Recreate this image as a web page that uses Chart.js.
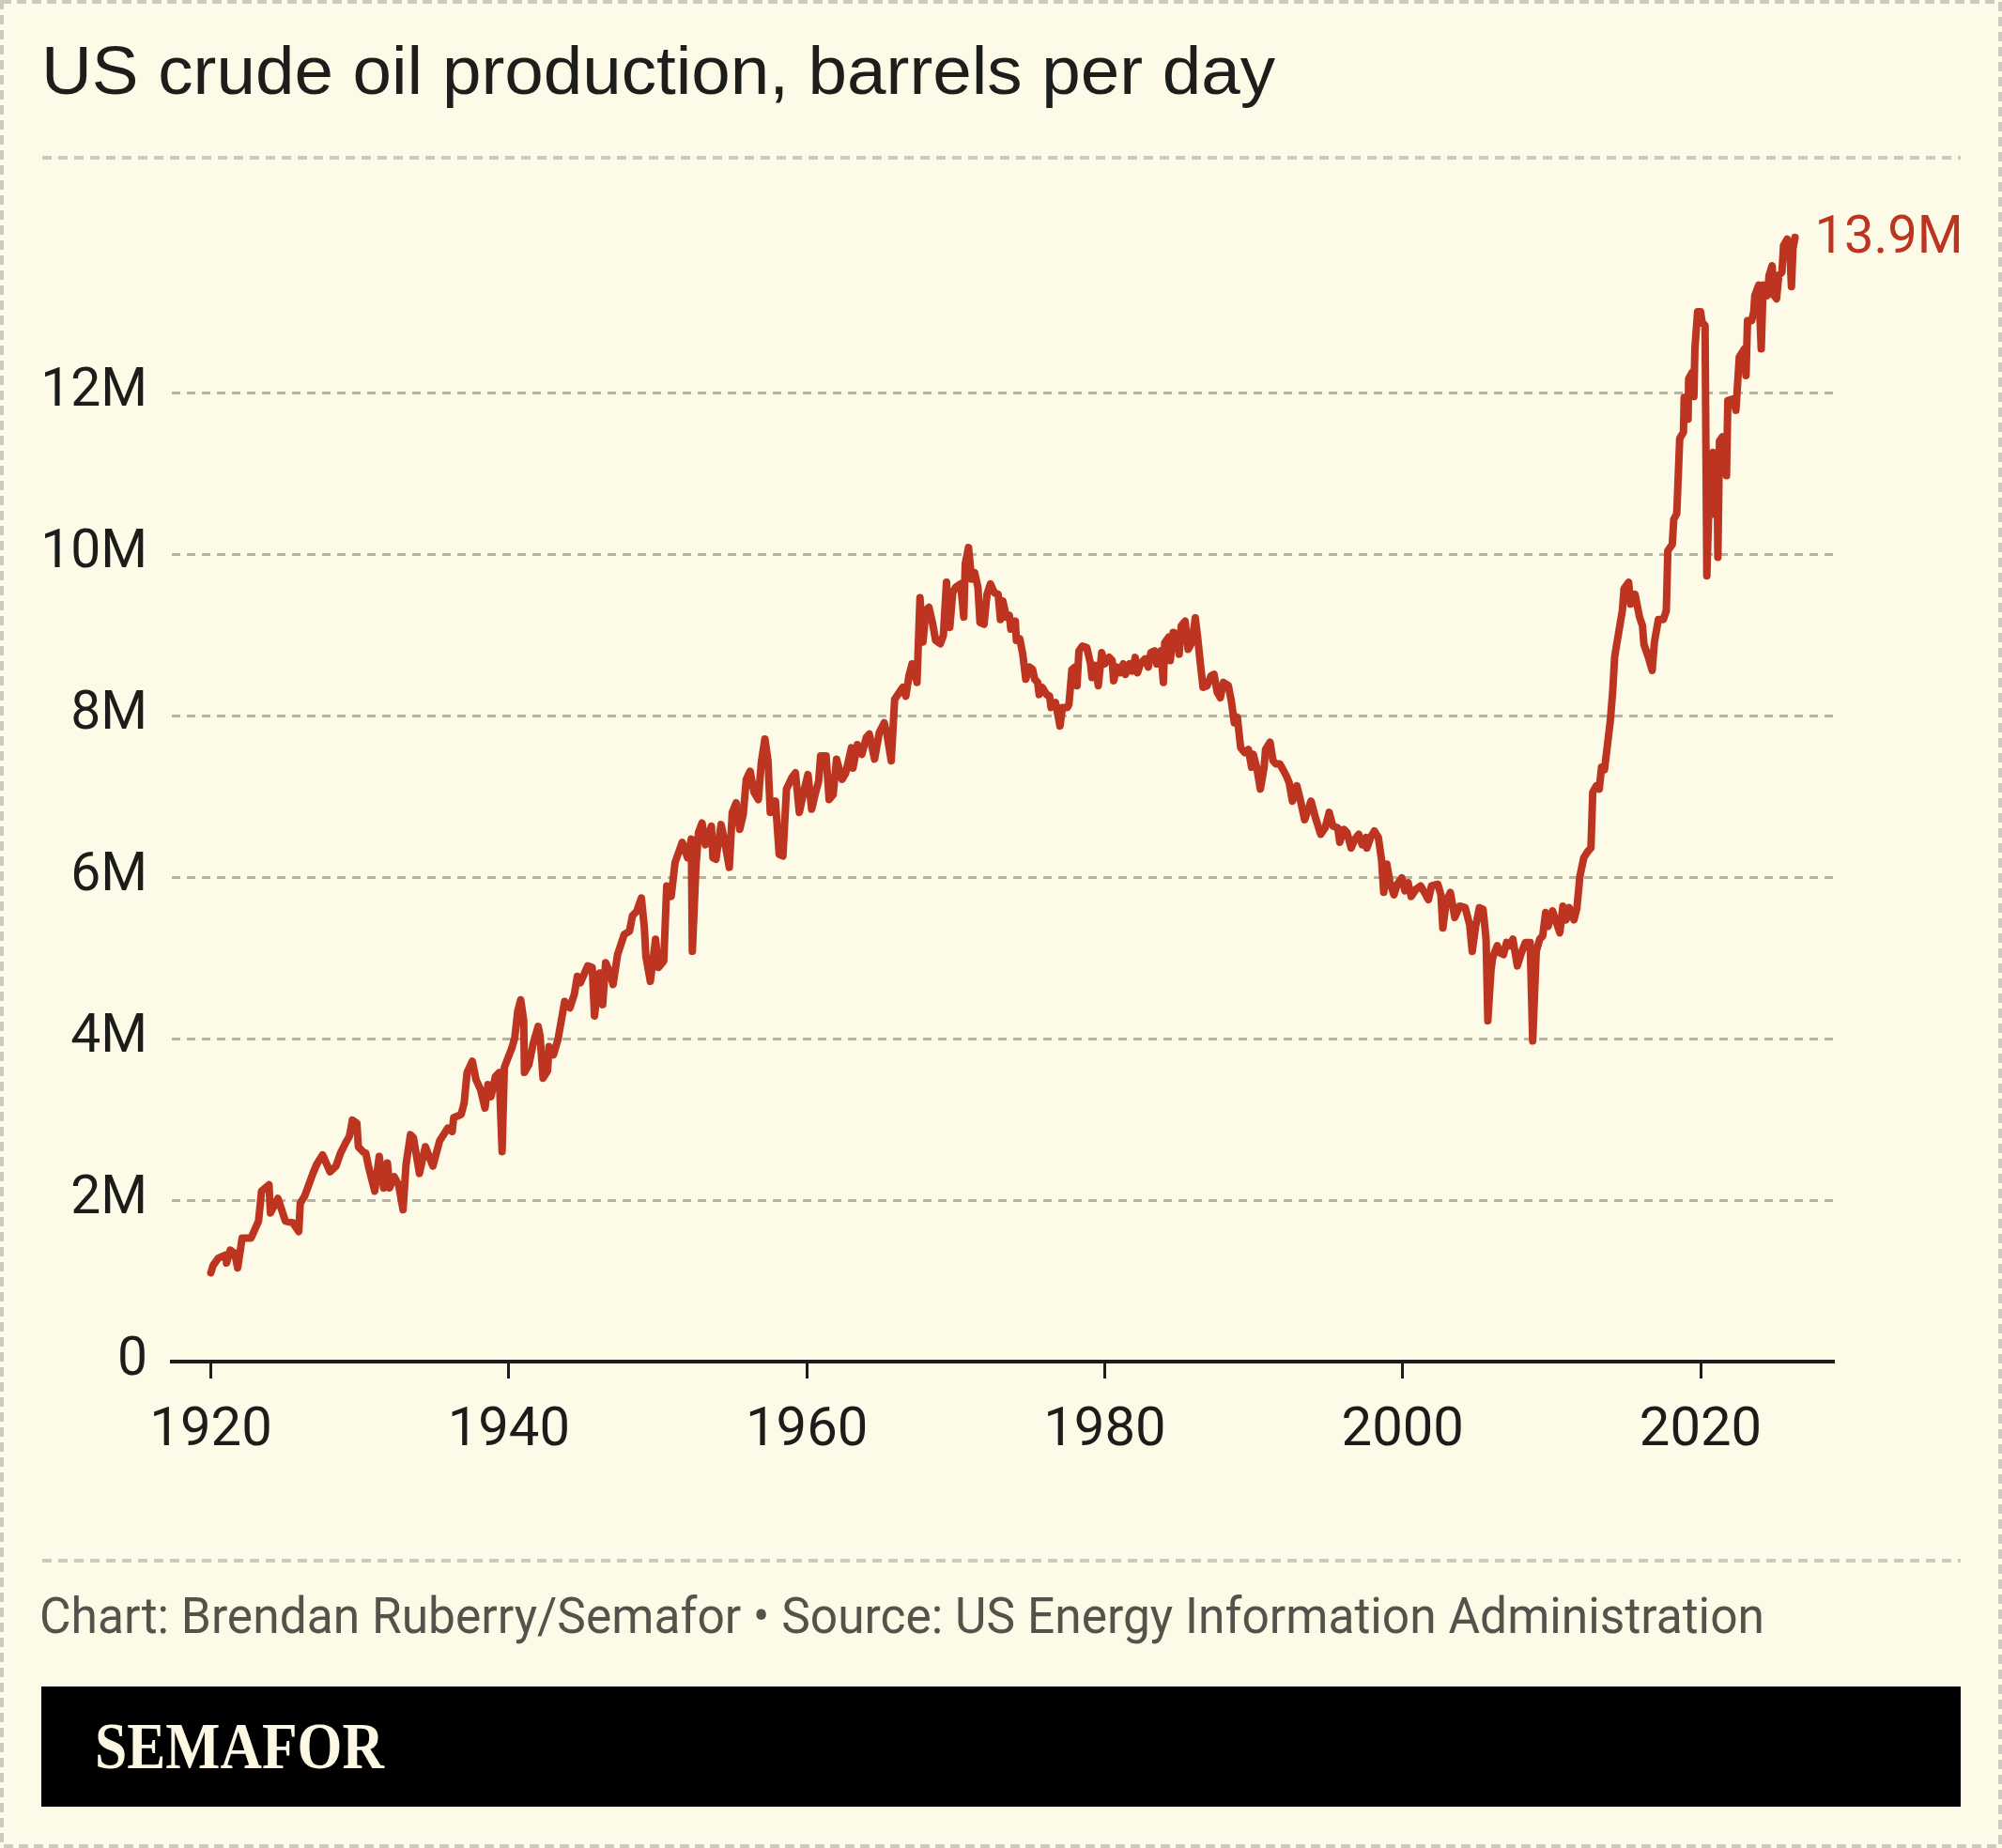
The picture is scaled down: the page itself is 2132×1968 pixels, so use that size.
<!DOCTYPE html>
<html>
<head>
<meta charset="utf-8">
<title>US crude oil production</title>
<script src="https://cdn.jsdelivr.net/npm/chart.js@4.4.1/dist/chart.umd.min.js"></script>
<style>
  html, body { margin: 0; padding: 0; background: #fdfae7; }
  #page { position: relative; width: 2132px; height: 1968px; overflow: hidden; background: #fdfae7; }
  #chart { position: absolute; left: 0; top: 0; }
  #overlay { position: absolute; left: 0; top: 0; pointer-events: none; }
</style>
</head>
<body>
<div id="page">
  <canvas id="chart" width="2132" height="1640"></canvas>
  <svg id="overlay" width="2132" height="1968" xmlns="http://www.w3.org/2000/svg">
    <rect x="2" y="2" width="2128" height="1964" fill="none" stroke="#ccc9be" stroke-width="4" stroke-dasharray="10 6"/>
    <text x="44" y="100" font-family="Liberation Sans, Arial, sans-serif" font-size="72" fill="#1d1d1b"
          textLength="1314" lengthAdjust="spacingAndGlyphs">US crude oil production, barrels per day</text>
    <line x1="45" y1="168" x2="2088" y2="168" stroke="#ccc9be" stroke-width="4" stroke-dasharray="10 7"/>
    <line x1="45" y1="1662" x2="2088" y2="1662" stroke="#ccc9be" stroke-width="4" stroke-dasharray="10 7"/>
    <text x="42" y="1739" font-family="Roboto, 'Liberation Sans', sans-serif" font-size="53" fill="#56524b"
          textLength="1837" lengthAdjust="spacingAndGlyphs">Chart: Brendan Ruberry/Semafor • Source: US Energy Information Administration</text>
    <rect x="44" y="1796" width="2044" height="128" fill="#000000"/>
    <text x="101" y="1883" font-family="'Liberation Serif', 'DejaVu Serif', serif" font-weight="bold" font-size="70" fill="#fcf8e3"
          textLength="308" lengthAdjust="spacingAndGlyphs">SEMAFOR</text>
  </svg>
</div>
<script>
// --- US crude oil production, million barrels per day ---

const years1920to1948 = [
  1920.0, 1920.15, 1920.5, 1921.0, 1921.05, 1921.3, 1921.6, 1921.8, 1922.1, 1922.7,
  1923.2, 1923.4, 1923.9, 1924.0, 1924.5, 1925.0, 1925.5, 1925.9, 1926.0, 1926.3,
  1926.85, 1927.1, 1927.5, 1928.0, 1928.4, 1928.7, 1929.05, 1929.3, 1929.5, 1929.8,
  1929.9, 1930.2, 1930.4, 1930.6, 1931.0, 1931.3, 1931.6, 1931.85, 1932.0, 1932.3,
  1932.6, 1932.9, 1933.1, 1933.4, 1933.6, 1934.0, 1934.4, 1934.9, 1935.35, 1935.9,
  1936.2, 1936.3, 1936.8, 1937.0, 1937.2, 1937.55, 1937.8, 1938.1, 1938.4, 1938.6,
  1938.8, 1939.1, 1939.35, 1939.55, 1939.7, 1939.9, 1940.2, 1940.4, 1940.6, 1940.8,
  1941.0, 1941.05, 1941.35, 1941.65, 1941.97, 1942.1, 1942.3, 1942.6, 1942.7, 1943.0,
  1943.3, 1943.75, 1944.1, 1944.4, 1944.6, 1944.8, 1945.3, 1945.6, 1945.75, 1946.1,
  1946.3, 1946.5, 1946.8, 1947.0, 1947.3, 1947.5, 1947.75, 1948.1, 1948.3, 1948.6
];
const mbpd1920to1948 = [
  1.10, 1.19, 1.28, 1.32, 1.22, 1.38, 1.34, 1.16, 1.53, 1.53,
  1.74, 2.11, 2.19, 1.84, 2.02, 1.74, 1.72, 1.61, 1.96, 2.05,
  2.33, 2.44, 2.56, 2.35, 2.42, 2.58, 2.71, 2.79, 2.99, 2.95,
  2.66, 2.60, 2.58, 2.40, 2.11, 2.54, 2.15, 2.46, 2.15, 2.29,
  2.19, 1.88, 2.44, 2.81, 2.77, 2.33, 2.66, 2.42, 2.73, 2.89,
  2.85, 3.02, 3.06, 3.20, 3.58, 3.72, 3.49, 3.37, 3.14, 3.43,
  3.28, 3.53, 3.58, 2.60, 3.64, 3.74, 3.88, 4.01, 4.34, 4.48,
  4.22, 3.58, 3.68, 3.95, 4.15, 4.03, 3.51, 3.60, 3.90, 3.80,
  3.99, 4.46, 4.38, 4.55, 4.77, 4.69, 4.90, 4.88, 4.28, 4.81,
  4.42, 4.94, 4.81, 4.67, 5.04, 5.15, 5.29, 5.33, 5.52, 5.58
];

const years1948to1973 = [
  1948.9, 1949.1, 1949.2, 1949.5, 1949.85, 1950.05, 1950.4, 1950.6, 1950.9, 1951.16,
  1951.64, 1952.0, 1952.25, 1952.32, 1952.56, 1952.73, 1952.97, 1953.2, 1953.6, 1953.7,
  1953.9, 1954.25, 1954.5, 1954.8, 1955.0, 1955.26, 1955.5, 1955.74, 1955.94, 1956.2,
  1956.46, 1956.75, 1956.95, 1957.19, 1957.4, 1957.55, 1957.9, 1958.15, 1958.4, 1958.64,
  1959.0, 1959.24, 1959.5, 1959.84, 1960.08, 1960.33, 1960.57, 1960.8, 1960.93, 1961.3,
  1961.5, 1961.77, 1962.0, 1962.37, 1962.6, 1963.0, 1963.1, 1963.4, 1963.7, 1964.0,
  1964.2, 1964.55, 1964.87, 1965.2, 1965.4, 1965.67, 1965.9, 1966.23, 1966.45, 1966.65,
  1966.86, 1967.07, 1967.4, 1967.6, 1967.8, 1968.0, 1968.2, 1968.44, 1968.65, 1968.97,
  1969.17, 1969.38, 1969.6, 1969.8, 1970.0, 1970.33, 1970.54, 1970.64, 1970.86, 1971.06,
  1971.27, 1971.49, 1971.63, 1971.9, 1972.1, 1972.33, 1972.6, 1972.85, 1973.0, 1973.16
];
const mbpd1948to1973 = [
  5.74, 5.37, 5.02, 4.71, 5.23, 4.88, 4.96, 5.89, 5.76, 6.18,
  6.43, 6.24, 6.47, 5.08, 6.12, 6.55, 6.67, 6.40, 6.63, 6.24,
  6.22, 6.65, 6.43, 6.12, 6.80, 6.92, 6.59, 6.78, 7.21, 7.31,
  7.05, 6.96, 7.42, 7.71, 7.44, 6.80, 6.94, 6.28, 6.26, 7.09,
  7.23, 7.29, 6.80, 7.09, 7.27, 6.84, 7.03, 7.19, 7.50, 7.50,
  6.96, 7.02, 7.46, 7.21, 7.28, 7.60, 7.35, 7.64, 7.52, 7.73,
  7.77, 7.46, 7.79, 7.91, 7.75, 7.44, 8.20, 8.29, 8.35, 8.24,
  8.49, 8.64, 8.41, 9.46, 8.91, 9.30, 9.34, 9.15, 8.93, 8.89,
  8.99, 9.65, 9.09, 9.52, 9.59, 9.63, 9.22, 9.88, 10.08, 9.69,
  9.77, 9.59, 9.15, 9.13, 9.50, 9.63, 9.52, 9.50, 9.19, 9.42
];

const years1973to1994 = [
  1973.4, 1973.6, 1973.7, 1974.0, 1974.07, 1974.3, 1974.5, 1974.7, 1974.95, 1975.16,
  1975.3, 1975.5, 1975.6, 1975.8, 1976.1, 1976.3, 1976.4, 1976.7, 1977.0, 1977.16,
  1977.5, 1977.6, 1977.8, 1978.0, 1978.14, 1978.27, 1978.5, 1978.8, 1979.05, 1979.15,
  1979.36, 1979.57, 1979.8, 1980.0, 1980.3, 1980.5, 1980.6, 1980.83, 1981.04, 1981.25,
  1981.4, 1981.67, 1981.84, 1982.05, 1982.2, 1982.4, 1982.7, 1982.93, 1983.1, 1983.35,
  1983.5, 1983.77, 1983.94, 1984.03, 1984.3, 1984.4, 1984.6, 1984.82, 1985.0, 1985.14,
  1985.4, 1985.6, 1985.87, 1986.08, 1986.25, 1986.4, 1986.6, 1986.88, 1987.13, 1987.34,
  1987.55, 1987.76, 1987.97, 1988.3, 1988.5, 1988.7, 1988.9, 1989.13, 1989.4, 1989.65,
  1989.86, 1989.97, 1990.2, 1990.45, 1990.7, 1990.8, 1991.1, 1991.3, 1991.5, 1991.75,
  1991.97, 1992.2, 1992.38, 1992.6, 1992.9, 1993.1, 1993.42, 1993.85, 1994.17, 1994.5
];
const mbpd1973to1994 = [
  9.22, 9.24, 9.07, 9.17, 8.93, 8.95, 8.76, 8.45, 8.60, 8.57,
  8.45, 8.41, 8.26, 8.35, 8.26, 8.24, 8.10, 8.16, 7.87, 8.10,
  8.10, 8.14, 8.57, 8.60, 8.37, 8.80, 8.86, 8.84, 8.64, 8.47,
  8.62, 8.37, 8.78, 8.64, 8.72, 8.68, 8.43, 8.60, 8.53, 8.64,
  8.51, 8.64, 8.55, 8.72, 8.53, 8.64, 8.70, 8.60, 8.78, 8.80,
  8.64, 8.80, 8.41, 8.90, 8.97, 8.68, 9.03, 9.01, 8.76, 9.11,
  9.17, 8.82, 8.91, 9.21, 8.95, 8.68, 8.35, 8.37, 8.49, 8.51,
  8.29, 8.22, 8.41, 8.37, 8.18, 7.91, 7.98, 7.60, 7.54, 7.58,
  7.36, 7.52, 7.36, 7.09, 7.36, 7.58, 7.67, 7.44, 7.40, 7.40,
  7.33, 7.25, 7.17, 6.94, 7.13, 6.98, 6.71, 6.94, 6.72, 6.53
];

const years1994to2017 = [
  1994.8, 1995.07, 1995.32, 1995.64, 1995.78, 1996.06, 1996.27, 1996.54, 1996.8, 1997.05,
  1997.28, 1997.54, 1997.6, 1997.85, 1998.1, 1998.37, 1998.58, 1998.73, 1998.94, 1999.15,
  1999.42, 1999.63, 1999.94, 2000.15, 2000.37, 2000.57, 2000.9, 2001.2, 2001.4, 2001.73,
  2001.94, 2002.36, 2002.57, 2002.7, 2002.93, 2003.2, 2003.35, 2003.5, 2003.83, 2004.2,
  2004.5, 2004.67, 2004.9, 2005.15, 2005.4, 2005.6, 2005.72, 2005.93, 2006.04, 2006.35,
  2006.56, 2006.77, 2006.98, 2007.2, 2007.4, 2007.7, 2007.93, 2008.24, 2008.56, 2008.73,
  2008.97, 2009.2, 2009.4, 2009.6, 2009.77, 2010.07, 2010.3, 2010.55, 2010.76, 2010.97,
  2011.18, 2011.5, 2011.7, 2011.9, 2012.16, 2012.44, 2012.64, 2012.76, 2013.0, 2013.2,
  2013.35, 2013.55, 2013.7, 2013.95, 2014.1, 2014.23, 2014.33, 2014.75, 2014.86, 2015.17,
  2015.3, 2015.6, 2015.9, 2016.1, 2016.2, 2016.5, 2016.75, 2016.9, 2017.17, 2017.5
];
const mbpd1994to2017 = [
  6.61, 6.80, 6.63, 6.61, 6.43, 6.59, 6.55, 6.36, 6.47, 6.53,
  6.40, 6.49, 6.36, 6.49, 6.57, 6.49, 6.22, 5.81, 6.16, 5.93,
  5.78, 5.91, 5.99, 5.83, 5.93, 5.76, 5.85, 5.89, 5.83, 5.72,
  5.89, 5.91, 5.78, 5.37, 5.70, 5.81, 5.66, 5.50, 5.64, 5.62,
  5.41, 5.08, 5.39, 5.62, 5.60, 5.23, 4.22, 4.84, 5.00, 5.15,
  5.06, 5.04, 5.19, 5.15, 5.23, 4.90, 5.04, 5.19, 5.19, 3.97,
  5.08, 5.23, 5.27, 5.56, 5.39, 5.58, 5.45, 5.31, 5.64, 5.47,
  5.62, 5.47, 5.62, 6.01, 6.24, 6.32, 6.36, 7.05, 7.13, 7.09,
  7.36, 7.33, 7.56, 7.95, 8.30, 8.72, 8.84, 9.30, 9.57, 9.65,
  9.38, 9.50, 9.22, 9.11, 8.88, 8.72, 8.56, 8.91, 9.19, 9.19
];

const years2017to2026 = [
  2017.7, 2017.8, 2018.1, 2018.2, 2018.4, 2018.6, 2018.85, 2018.9, 2019.16, 2019.2,
  2019.44, 2019.55, 2019.62, 2019.8, 2020.0, 2020.1, 2020.3, 2020.42, 2020.63, 2020.74,
  2020.84, 2021.1, 2021.16, 2021.27, 2021.46, 2021.74, 2021.83, 2022.2, 2022.37, 2022.6,
  2022.94, 2023.05, 2023.15, 2023.43, 2023.57, 2023.64, 2023.9, 2024.07, 2024.2, 2024.48,
  2024.6, 2024.8, 2024.94, 2025.1, 2025.25, 2025.46, 2025.57, 2025.82, 2026.0, 2026.1,
  2026.2, 2026.34
];
const mbpd2017to2026 = [
  9.30, 10.04, 10.12, 10.43, 10.50, 11.43, 11.51, 11.94, 11.67, 12.17,
  12.25, 11.95, 12.55, 13.00, 13.00, 12.87, 12.83, 9.73, 11.05, 10.49,
  11.26, 11.20, 9.96, 11.40, 11.45, 10.97, 11.90, 11.92, 11.78, 12.44,
  12.54, 12.21, 12.89, 12.89, 13.00, 13.20, 13.33, 12.54, 13.33, 13.20,
  13.45, 13.57, 13.20, 13.16, 13.45, 13.49, 13.82, 13.90, 13.72, 13.31,
  13.78, 13.92
];

const xTicks = [1920, 1940, 1960, 1980, 2000, 2020];
const yTicks = [0, 2, 4, 6, 8, 10, 12];
const yTickLabels = ['0', '2M', '4M', '6M', '8M', '10M', '12M'];

// --- styling ---
const LINE_RED = '#bd3421';
const INK = '#1c1c1a';
const GRID = '#b7b4a3';
const TICK_FONT = "Roboto, 'Liberation Sans', sans-serif";

const years = [].concat(years1920to1948, years1948to1973, years1973to1994, years1994to2017, years2017to2026);
const mbpd = [].concat(mbpd1920to1948, mbpd1948to1973, mbpd1973to1994, mbpd1994to2017, mbpd2017to2026);
const points = years.map((x, i) => ({ x: x, y: mbpd[i] }));

// label the latest value to the right of the line end
const endLabel = {
  id: 'endLabel',
  afterDatasetsDraw(chart) {
    const meta = chart.getDatasetMeta(0);
    const last = meta.data[meta.data.length - 1];
    if (!last) return;
    const c = chart.ctx;
    c.save();
    c.font = `56px ${TICK_FONT}`;
    c.fillStyle = LINE_RED;
    c.textBaseline = 'alphabetic';
    c.textAlign = 'left';
    c.fillText(`${mbpd[mbpd.length - 1].toFixed(1)}M`, last.x + 21, last.y + 16);
    c.restore();
  }
};

new Chart(document.getElementById('chart'), {
  type: 'line',
  data: {
    datasets: [{
      data: points,
      borderColor: LINE_RED,
      borderWidth: 8,
      borderJoinStyle: 'round',
      borderCapStyle: 'round',
      pointRadius: 0,
      tension: 0,
      fill: false
    }]
  },
  options: {
    responsive: false,
    animation: false,
    events: [],
    layout: { padding: { top: 203, right: 179, bottom: 0, left: 0 } },
    plugins: {
      legend: { display: false },
      tooltip: { enabled: false }
    },
    scales: {
      x: {
        type: 'linear',
        min: 1917.38,
        max: 2028.95,
        afterBuildTicks: (scale) => { scale.ticks = xTicks.map(v => ({ value: v })); },
        afterFit: (scale) => { scale.height = 190; },
        grid: {
          drawOnChartArea: false,
          drawTicks: true,
          tickLength: 18,
          tickWidth: 3,
          tickColor: INK
        },
        border: { display: true, color: INK, width: 4 },
        ticks: {
          color: INK,
          font: { family: TICK_FONT, size: 58 },
          padding: 22,
          maxRotation: 0,
          autoSkip: false,
          callback: (v) => String(v)
        }
      },
      y: {
        min: 0,
        max: 14.5,
        afterBuildTicks: (scale) => { scale.ticks = yTicks.map(v => ({ value: v })); },
        afterFit: (scale) => { scale.width = 183; },
        grid: {
          color: (ctx) => (ctx.tick && ctx.tick.value === 0) ? 'rgba(0,0,0,0)' : GRID,
          lineWidth: 3,
          drawTicks: false
        },
        border: { display: false, dash: [9, 7] },
        ticks: {
          color: INK,
          font: { family: TICK_FONT, size: 57 },
          padding: 26,
          autoSkip: false,
          callback: (v) => yTickLabels[yTicks.indexOf(v)]
        }
      }
    }
  },
  plugins: [endLabel]
});
</script>
</body>
</html>
